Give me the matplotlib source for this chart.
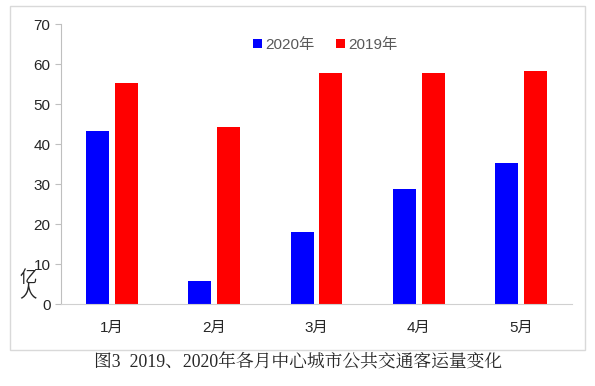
import numpy as np
import matplotlib.pyplot as plt
from matplotlib.patches import Rectangle

plt.rcParams['font.family'] = ['Liberation Sans', 'Noto Sans CJK SC', 'DejaVu Sans']

months = ['1月', '2月', '3月', '4月', '5月']
vals_2020 = [43.25, 5.75, 18.0, 28.75, 35.25]
vals_2019 = [55.25, 44.25, 57.75, 57.75, 58.25]

fig = plt.figure(figsize=(5.95, 3.86), dpi=100)
ax = fig.add_axes([61 / 595, 1 - 304 / 386, (572 - 61) / 595, (304 - 24) / 386])

# outer frame around the chart
fig.patches.append(Rectangle((10 / 595, 1 - 350 / 386), 575 / 595, 344 / 386,
                             transform=fig.transFigure, fill=False,
                             edgecolor='#d9d9d9', linewidth=1))

x = np.arange(len(months))
w = 0.225
ax.bar(x - 0.14, vals_2020, w, color='#0000ff', label='2020年')
ax.bar(x + 0.14, vals_2019, w, color='#ff0000', label='2019年')

ax.set_xlim(-0.5, len(months) - 0.5)
ax.set_ylim(0, 70)
ax.set_yticks(range(0, 71, 10))
ax.set_xticks(x)
ax.set_xticklabels(months, fontsize=11)
ax.tick_params(axis='y', labelsize=11, color='#bfbfbf', length=4, labelcolor='#262626')
ax.tick_params(axis='x', length=0, pad=12, labelcolor='#262626')

for s in ['top', 'right']:
    ax.spines[s].set_visible(False)
ax.spines['left'].set_color('#bfbfbf')
ax.spines['bottom'].set_color('#d0d0d0')

fig.text(28 / 595, 1 - 285 / 386, '亿\n人', fontsize=12.5, ha='center', va='center',
         linespacing=0.85, color='#262626')

ax.legend(loc='upper center', bbox_to_anchor=(0.517, 1.0), ncol=2, frameon=False,
          fontsize=11, handlelength=0.6, handleheight=0.6, handletextpad=0.2,
          columnspacing=1.4, labelcolor='#595959')

fig.text(298 / 595, 1 - 362 / 386, '图3  2019、2020年各月中心城市公共交通客运量变化',
         ha='center', va='center', fontsize=12.8,
         family=['Liberation Serif', 'Noto Serif CJK SC', 'Noto Sans CJK SC'], color='#262626')

fig.savefig('out.png', dpi=100)
